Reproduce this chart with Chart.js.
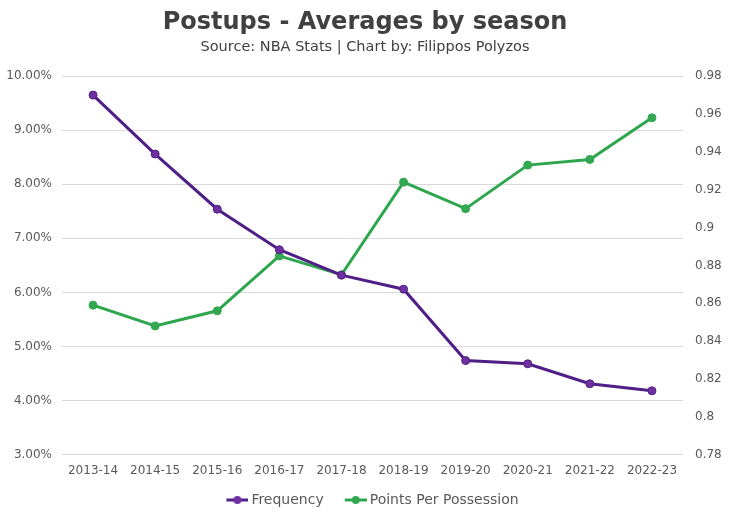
<!DOCTYPE html>
<html>
<head>
<meta charset="utf-8">
<script src="https://cdn.jsdelivr.net/npm/chart.js@4"></script>
<style>
  html, body { margin: 0; padding: 0; background: #fff; }
  #wrap { width: 730px; height: 520px; }
</style>
</head>
<body>
<div id="wrap"><canvas id="c" width="730" height="520"></canvas></div>
<script>
const seasons = ["2013-14","2014-15","2015-16","2016-17","2017-18","2018-19","2019-20","2020-21","2021-22","2022-23"];
const frequency = [9.65, 8.56, 7.54, 6.79, 6.32, 6.06, 4.74, 4.68, 4.31, 4.18];
const pointsPerPossession = [0.859, 0.848, 0.856, 0.885, 0.875, 0.924, 0.910, 0.933, 0.936, 0.958];

const FONT = "'DejaVu Sans', sans-serif";
const purpleLine = "#4f1f87";
const purplePoint = "#7030a0";
const greenLine = "#2ea64d";
const greenPoint = "#33a852";

function legendIcon(lineColor, dotColor) {
  const cv = document.createElement('canvas');
  cv.width = 41; cv.height = 10;
  const g = cv.getContext('2d');
  g.strokeStyle = lineColor; g.lineWidth = 3;
  g.beginPath(); g.moveTo(19, 5); g.lineTo(41, 5); g.stroke();
  g.fillStyle = dotColor;
  g.beginPath(); g.arc(30, 5, 4, 0, Math.PI * 2); g.fill();
  return cv;
}

new Chart(document.getElementById('c'), {
  type: 'line',
  data: {
    labels: seasons,
    datasets: [
      {
        label: 'Frequency',
        data: frequency,
        yAxisID: 'y',
        borderColor: purpleLine,
        backgroundColor: purplePoint,
        pointBackgroundColor: purplePoint,
        pointBorderColor: purpleLine,
        borderWidth: 3,
        pointRadius: 4,
        pointBorderWidth: 1,
        tension: 0,
        order: 1
      },
      {
        label: 'Points Per Possession',
        data: pointsPerPossession,
        yAxisID: 'y1',
        borderColor: greenLine,
        backgroundColor: greenPoint,
        pointBackgroundColor: greenPoint,
        pointBorderColor: greenLine,
        borderWidth: 3,
        pointRadius: 4,
        pointBorderWidth: 1,
        tension: 0,
        order: 2
      }
    ]
  },
  options: {
    responsive: false,
    animation: false,
    layout: { padding: { left: 4, right: 4, top: 8, bottom: 3 } },
    plugins: {
      title: {
        display: true,
        text: 'Postups - Averages by season',
        color: '#404040',
        font: { family: FONT, size: 24, weight: 'bold' },
        padding: { top: 0, bottom: 2 }
      },
      subtitle: {
        display: true,
        text: 'Source: NBA Stats | Chart by: Filippos Polyzos',
        color: '#404040',
        font: { family: FONT, size: 14.5 },
        padding: { top: 0, bottom: 20 }
      },
      legend: {
        position: 'bottom',
        labels: {
          color: '#595959',
          font: { family: FONT, size: 14 },
          padding: 6,
          usePointStyle: true,
          pointStyleWidth: 33,
          generateLabels: (chart) => chart.data.datasets.map((ds, i) => ({
            text: ds.label,
            pointStyle: i === 0 ? legendIcon(purpleLine, purplePoint) : legendIcon(greenLine, greenPoint),
            fontColor: '#595959',
            datasetIndex: i,
            hidden: !chart.isDatasetVisible(i)
          }))
        }
      },
      tooltip: { enabled: false }
    },
    scales: {
      x: {
        offset: true,
        grid: { display: false, drawTicks: false },
        border: { display: false },
        ticks: { color: '#595959', font: { family: FONT, size: 12 }, maxRotation: 0, padding: 9 }
      },
      y: {
        position: 'left',
        min: 3, max: 10,
        ticks: {
          stepSize: 1,
          color: '#595959',
          font: { family: FONT, size: 12 },
          padding: 10,
          callback: (v) => v.toFixed(2) + '%'
        },
        grid: { color: '#d9d9d9', lineWidth: 1, drawTicks: false },
        border: { display: false },
        afterFit: (s) => { s.width = 58; }
      },
      y1: {
        position: 'right',
        min: 0.78, max: 0.98,
        ticks: {
          stepSize: 0.02,
          color: '#595959',
          font: { family: FONT, size: 12 },
          padding: 12,
          callback: (v) => String(parseFloat(v.toFixed(2)))
        },
        grid: { display: false, drawTicks: false },
        border: { display: false },
        afterFit: (s) => { s.width = 43; }
      }
    }
  }
});
</script>
</body>
</html>
